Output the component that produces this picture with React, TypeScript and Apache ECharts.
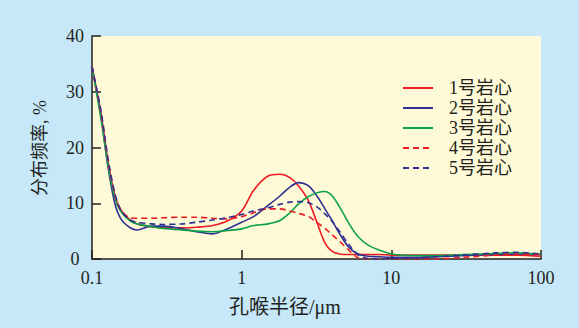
import React, { useEffect, useRef } from "react";
import * as echarts from "echarts";

const radius = [0.1, 0.115, 0.128, 0.142, 0.156, 0.18, 0.2, 0.25, 0.3, 0.4, 0.5, 0.64, 0.8, 1.0, 1.2, 1.5, 1.8, 2.1, 2.4, 2.8, 3.2, 3.6, 4.0, 4.5, 5.2, 6.0, 7.0, 8.3, 10, 15, 20, 30, 50, 70, 100];

const core1 = [34.5, 26, 17.5, 11.5, 8.8, 7.0, 6.3, 5.8, 5.6, 5.6, 5.7, 6.0, 6.8, 8.6, 12.3, 14.9, 15.2, 14.6, 13.1, 10.4, 6.4, 2.9, 1.4, 0.9, 0.8, 0.8, 0.8, 0.8, 0.7, 0.7, 0.7, 0.7, 0.7, 0.7, 0.5];
const core2 = [34.5, 25.5, 16.5, 10, 7.2, 5.6, 5.2, 5.9, 5.9, 5.4, 4.9, 4.5, 5.4, 6.6, 7.6, 9.6, 11.3, 12.9, 13.7, 13.1, 11.2, 9.0, 7.0, 4.6, 2.1, 0.9, 0.5, 0.4, 0.3, 0.3, 0.4, 0.6, 0.8, 0.9, 0.8];
const core3 = [34.5, 25, 16.8, 11, 8.5, 6.8, 6.3, 5.8, 5.5, 5.2, 5.0, 4.9, 5.1, 5.4, 6.0, 6.3, 6.9, 8.3, 9.9, 11.2, 11.9, 12.1, 11.4, 9.4, 6.4, 4.0, 2.5, 1.6, 0.9, 0.6, 0.6, 0.8, 1.0, 1.1, 0.8];
const core4 = [34.5, 26, 17.5, 11.5, 8.7, 7.4, 7.3, 7.3, 7.4, 7.5, 7.5, 7.3, 7.2, 7.6, 8.3, 9.0, 9.0, 8.6, 8.2, 7.6, 6.5, 5.5, 4.4, 3.2, 1.6, 0.2, 0.0, 0.0, 0.0, 0.0, 0.0, 0.3, 0.7, 0.9, 0.8];
const core5 = [34.5, 26.5, 18, 11.8, 8.7, 7.0, 6.6, 6.3, 6.2, 6.3, 6.6, 7.0, 7.4, 8.0, 8.6, 9.2, 9.8, 10.2, 10.3, 10.1, 9.3, 8.1, 6.8, 5.0, 2.6, 0.7, 0.1, 0.0, 0.1, 0.2, 0.4, 0.7, 1.1, 1.2, 0.9];

const seriesNames = ["1号岩心", "2号岩心", "3号岩心", "4号岩心", "5号岩心"];
const seriesValues = [core1, core2, core3, core4, core5];
const seriesColors = ["#ed1c24", "#2e3192", "#0ea14b", "#ed1c24", "#2e3192"];
const seriesDashed = [false, false, false, true, true];

const yTicks = [0, 10, 20, 30, 40];
const xTicks = [0.1, 1, 10, 100];

const serif = "'Liberation Serif', 'Noto Sans CJK SC', serif";
const ink = "#231f20";

export default function App() {
  const ref = useRef<HTMLDivElement>(null);
  useEffect(() => {
    if (!ref.current) return;
    const chart = echarts.init(ref.current, undefined, { renderer: "svg" });
    chart.setOption({
      animation: false,
      backgroundColor: "#c6e8f8",
      grid: {
        left: 92,
        right: 38,
        top: 36,
        bottom: 69,
        show: true,
        backgroundColor: "#fef9d6",
        borderWidth: 0,
      },
      legend: {
        orient: "vertical",
        left: 402,
        top: 79,
        itemWidth: 30,
        itemHeight: 10,
        itemGap: 2,
        padding: 0,
        data: seriesNames,
        itemStyle: { opacity: 0 },
        textStyle: {
          fontFamily: serif,
          fontSize: 18,
          color: ink,
          padding: [0, 0, 0, 11],
        },
      },
      xAxis: {
        type: "log",
        logBase: 10,
        min: xTicks[0],
        max: xTicks[xTicks.length - 1],
        axisLine: { show: true, lineStyle: { color: ink, width: 1.5 } },
        axisTick: { show: true, inside: true, length: 9, lineStyle: { color: ink, width: 1.5 } },
        minorTick: { show: false },
        splitLine: { show: false },
        axisLabel: {
          margin: 10,
          fontFamily: serif,
          fontSize: 18,
          color: ink,
          formatter: (v: number) => String(parseFloat(v.toPrecision(3))),
        },
      },
      yAxis: {
        type: "value",
        min: yTicks[0],
        max: yTicks[yTicks.length - 1],
        interval: 10,
        axisLine: { show: true, lineStyle: { color: ink, width: 1.5 } },
        axisTick: { show: true, inside: true, length: 9, lineStyle: { color: ink, width: 1.5 } },
        splitLine: { show: false },
        axisLabel: {
          margin: 17,
          align: "center",
          fontFamily: serif,
          fontSize: 18,
          color: ink,
        },
      },
      graphic: [
        {
          type: "text",
          left: 229,
          top: 297,
          style: {
            text: "孔喉半径/μm",
            font: "20px 'Liberation Serif', 'Noto Sans CJK SC', serif",
            fill: ink,
          },
        },
        {
          type: "text",
          x: 40,
          y: 148,
          rotation: Math.PI / 2,
          style: {
            text: "分布频率, %",
            font: "18px 'Liberation Serif', 'Noto Sans CJK SC', serif",
            fill: ink,
            align: "center",
            verticalAlign: "middle",
          },
        },
      ],
      series: seriesNames.map((name, i) => ({
        name,
        type: "line",
        smooth: 0.3,
        symbol: "none",
        data: radius.map((r, j) => [r, seriesValues[i][j]]),
        lineStyle: {
          color: seriesColors[i],
          width: 1.6,
          type: seriesDashed[i] ? [6, 4] : "solid",
        },
        itemStyle: { color: seriesColors[i] },
      })),
    });
    return () => chart.dispose();
  }, []);
  return (
    <div
      ref={ref}
      style={{ position: "fixed", left: 0, top: 0, width: 579, height: 328 }}
    />
  );
}
